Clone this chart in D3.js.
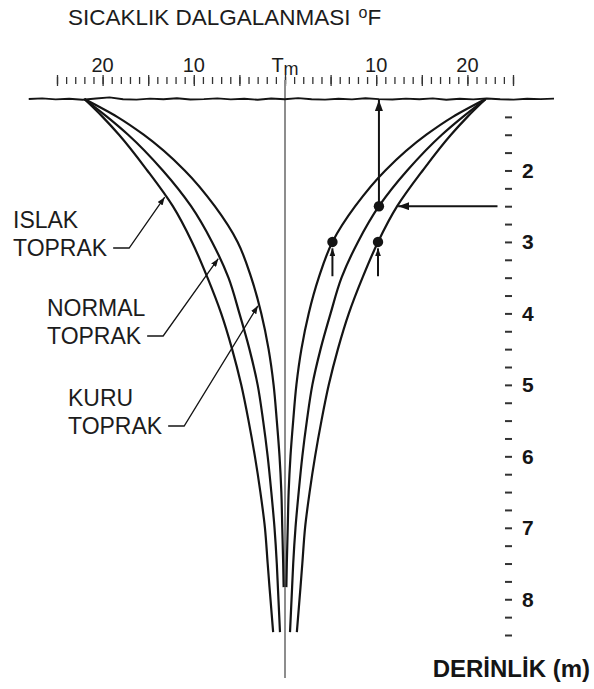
<!DOCTYPE html>
<html>
<head>
<meta charset="utf-8">
<script src="https://cdn.jsdelivr.net/npm/d3@7"></script>
<style>
  body { margin: 0; background: #fff; }
  svg { display: block; font-family: "Liberation Sans", Arial, Helvetica, sans-serif; }
</style>
</head>
<body>
<svg id="chart" width="594" height="689"></svg>
<script>
// Depth (m) of each reading; the ground surface sits at 1.0
const depths = [1.0, 1.25, 1.5, 2.0, 2.5, 3.0, 3.5, 4.0, 4.5, 5.0, 5.5, 6.0, 6.5, 7.0, 7.5, 7.83, 8.46];

// Temperature swing about the mean Tm (°F) for each soil type
const islakToprak  = [22, 20.0, 18.2, 15.1, 12.3, 10.2, 8.5, 7.0, 5.8, 4.8, 4.0, 3.3, 2.7, 2.2, 1.9, 1.7, 1.3];
const normalToprak = [22, 19.5, 17.2, 13.4, 10.3, 8.0, 6.2, 5.0, 3.9, 3.0, 2.4, 1.9, 1.5, 1.15, 0.9, 0.78, 0.55];
const kuruToprak   = [22, 18.4, 15.5, 11.0, 7.7, 5.2, 3.7, 2.6, 1.8, 1.25, 0.9, 0.6, 0.4, 0.3, 0.2, 0.15];

const soilNames = ["ISLAK", "NORMAL", "KURU"];
const soilSeries = [islakToprak, normalToprak, kuruToprak];

// Top axis (°F swing) labels
const tempLabelValues = [-20, -10, 0, 10, 20];
const tempLabels = ["20", "10", "Tm", "10", "20"];

// Right axis (depth, m) labels
const depthLabelValues = [2, 3, 4, 5, 6, 7, 8];

// Highlighted readings: soil index and depth
const markedReadings = [
  { soil: 1, depth: 2.5 },
  { soil: 2, depth: 3.0 },
  { soil: 0, depth: 3.0 }
];

// Surface line roughness (px offsets along the ground)
const groundRoughness = [0, -0.6, 0.4, -0.3, 0.8, -0.5, -1.6, 0.3, 0.6, -0.4, 0.2, -0.8, 0.5, 0.1,
  -0.6, 0.4, -0.2, 0.7, -0.5, 0.3, -0.9, 0.2, 0.6, -0.3, 0.4, -0.7, 0.1, 0.5, -0.4, 0.3, -0.6,
  0.8, -0.2, 0.4, -0.5, 0.2, 0.6, -0.3, 0.1, -0.4];

const svg = d3.select("#chart");
const ink = "#141414";

const x = d3.scaleLinear().domain([-25, 25]).range([57, 513]);
const y = d3.scaleLinear().domain([1, 8.5]).range([99, 635]);

// arrowheads
const defs = svg.append("defs");
function arrowMarker(id, len, wid) {
  defs.append("marker")
    .attr("id", id)
    .attr("viewBox", `0 0 ${len} ${wid}`)
    .attr("refX", len).attr("refY", wid / 2)
    .attr("markerWidth", len).attr("markerHeight", wid)
    .attr("markerUnits", "userSpaceOnUse")
    .attr("orient", "auto")
    .append("path")
    .attr("d", `M0,0L${len},${wid / 2}L0,${wid}Z`)
    .attr("fill", ink);
}
arrowMarker("head", 11, 8);
arrowMarker("headSmall", 8, 6);

// Title
const title = svg.append("text")
  .attr("x", 68).attr("y", 25)
  .attr("font-size", 22.5).attr("fill", "#1c1c1c")
  .text("SICAKLIK DALGALANMASI");
title.append("tspan").attr("font-size", 16).attr("dx", 8).attr("dy", -7).text("o");
title.append("tspan").attr("dy", 7).text("F");

// Top scale ticks: every degree, longer every five
const topAxisY = 84;
svg.append("g")
  .attr("transform", `translate(0,${topAxisY})`)
  .call(d3.axisTop(x).tickValues(d3.range(-25, 26, 1)).tickSize(7).tickFormat(""))
  .call(g => g.select(".domain").remove())
  .call(g => g.selectAll(".tick line").attr("stroke", "#333").attr("stroke-width", 1.3));
svg.append("g")
  .attr("transform", `translate(0,${topAxisY + 2})`)
  .call(d3.axisTop(x).tickValues(d3.range(-25, 26, 5)).tickSize(11).tickFormat(""))
  .call(g => g.select(".domain").remove())
  .call(g => g.selectAll(".tick line").attr("stroke", "#333").attr("stroke-width", 1.3));

// Top labels
const topLabels = svg.append("g")
  .attr("font-size", 20).attr("fill", "#1c1c1c").attr("text-anchor", "middle");
tempLabelValues.forEach((v, i) => {
  const t = topLabels.append("text").attr("x", x(v)).attr("y", 72);
  if (tempLabels[i] === "Tm") {
    t.append("tspan").text("T");
    t.append("tspan").attr("font-size", 18).attr("dy", 3).text("m");
  } else {
    t.text(tempLabels[i]);
  }
});

// Mean temperature line, running up through the scale
svg.append("line")
  .attr("x1", x(0)).attr("x2", x(0))
  .attr("y1", topAxisY - 4).attr("y2", y(9.1))
  .attr("stroke", "#8d8d8d").attr("stroke-width", 2);

// Ground surface
const groundLo = -28.1, groundHi = 29.5;
const groundPts = groundRoughness.map((dy, i) => {
  const v = groundLo + (groundHi - groundLo) * i / (groundRoughness.length - 1);
  return [x(v), y(1) + dy];
});
svg.append("path")
  .attr("d", d3.line()(groundPts))
  .attr("fill", "none").attr("stroke", ink).attr("stroke-width", 1.9);

// Swing envelopes, mirrored about Tm
const line = d3.line().x(p => p[0]).y(p => p[1]).curve(d3.curveMonotoneY);
soilSeries.forEach(series => {
  [1, -1].forEach(side => {
    const pts = series.map((a, i) => [x(side * a), y(depths[i])]);
    svg.append("path")
      .attr("d", line(pts))
      .attr("fill", "none").attr("stroke", ink)
      .attr("stroke-width", 2.2).attr("stroke-linecap", "butt");
  });
});

// value of a series at a depth
function swingAt(soil, depth) {
  const s = soilSeries[soil];
  const f = d3.scaleLinear().domain(depths.slice(0, s.length)).range(s);
  return f(depth);
}

// Depth axis on the right
const depthAxisX = 505;
svg.append("g")
  .attr("transform", `translate(${depthAxisX},0)`)
  .call(d3.axisRight(y)
    .tickValues(d3.range(1.25, 8.51, 0.25))
    .tickSize(7)
    .tickPadding(10)
    .tickFormat(d => depthLabelValues.includes(d) ? String(d) : ""))
  .call(g => g.select(".domain").remove())
  .call(g => g.selectAll(".tick line").attr("stroke", "#333").attr("stroke-width", 2))
  .call(g => g.selectAll(".tick text")
    .attr("font-size", 21).attr("font-weight", "bold").attr("fill", "#151515")
    .attr("font-family", "Liberation Sans, Arial, sans-serif"));

svg.append("text")
  .attr("x", 590).attr("y", 677)
  .attr("text-anchor", "end")
  .attr("font-size", 24).attr("font-weight", "bold").attr("fill", "#151515")
  .text("DERİNLİK (m)");

// Readings: dots with arrows
const r0 = markedReadings[0];
const v0 = swingAt(r0.soil, r0.depth);
svg.append("line")
  .attr("x1", x(v0)).attr("y1", y(r0.depth))
  .attr("x2", x(v0)).attr("y2", y(1) + 1)
  .attr("stroke", ink).attr("stroke-width", 2)
  .attr("marker-end", "url(#head)");

// horizontal arrow to the wet-soil curve at the same depth
svg.append("line")
  .attr("x1", x(23.3)).attr("y1", y(r0.depth))
  .attr("x2", x(swingAt(0, r0.depth)) + 1).attr("y2", y(r0.depth))
  .attr("stroke", ink).attr("stroke-width", 2)
  .attr("marker-end", "url(#head)");

// small pointers beneath the lower readings
markedReadings.slice(1).forEach(r => {
  const v = swingAt(r.soil, r.depth);
  svg.append("line")
    .attr("x1", x(v)).attr("y1", y(r.depth + 0.48))
    .attr("x2", x(v)).attr("y2", y(r.depth + 0.09))
    .attr("stroke", ink).attr("stroke-width", 2)
    .attr("marker-end", "url(#headSmall)");
});

svg.append("g").selectAll("circle")
  .data(markedReadings)
  .join("circle")
  .attr("cx", r => x(swingAt(r.soil, r.depth)))
  .attr("cy", r => y(r.depth))
  .attr("r", 5.2)
  .attr("fill", ink);

// Soil labels with leaders pointing to the left-hand curves
const soilLabelLayout = [
  { soil: 0, lx: 13, ly: 228, tipDepth: 2.36 },
  { soil: 1, lx: 47, ly: 316, tipDepth: 3.22 },
  { soil: 2, lx: 68, ly: 406, tipDepth: 3.88 }
];
soilLabelLayout.forEach(s => {
  const g = svg.append("g").attr("font-size", 23).attr("fill", "#1c1c1c");
  g.append("text").attr("x", s.lx).attr("y", s.ly).text(soilNames[s.soil]);
  const t2 = g.append("text").attr("x", s.lx).attr("y", s.ly + 28).text("TOPRAK");
  const w = t2.node().getComputedTextLength();
  const yl = s.ly + 28 - 8;
  const tip = [x(-swingAt(s.soil, s.tipDepth)) - 1, y(s.tipDepth) + 1];
  const pts = [[s.lx + w + 6, yl], [s.lx + w + 22, yl], tip];
  svg.append("path")
    .attr("d", d3.line()(pts))
    .attr("fill", "none").attr("stroke", ink).attr("stroke-width", 1.3)
    .attr("marker-end", "url(#headSmall)");
});
</script>
</body>
</html>
